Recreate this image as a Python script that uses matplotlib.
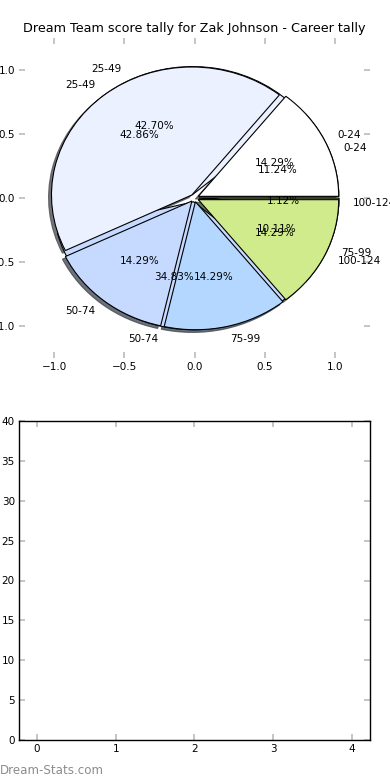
import matplotlib
matplotlib.use("Agg")
import matplotlib.pyplot as plt

# score bands and counts
bands = ["0-24", "25-49", "50-74", "75-99", "100-124"]
career_counts = [10, 38, 31, 9, 1]      # 11.24 / 42.70 / 34.83 / 10.11 / 1.12 %
season_counts = [1, 3, 1, 1, 1]         # 14.29 / 42.86 / 14.29 / 14.29 / 14.29 %
band_colors = ["#ffffff", "#ebf1ff", "#c6d9ff", "#b4d7ff", "#d0eb8b"]

empty_x = [0, 1, 2, 3, 4]
y_ticks = [0, 5, 10, 15, 20, 25, 30, 35, 40]

plt.rcParams["font.family"] = "DejaVu Sans"
plt.rcParams["font.size"] = 7.5

fig = plt.figure(figsize=(3.9, 7.8), dpi=100)

ax1 = fig.add_axes([19 / 390, 1 - 358 / 780, 351 / 390, 320 / 780])
wedge_kw = {"edgecolor": "black", "linewidth": 0.8}
ax1.pie(career_counts, labels=bands, colors=band_colors, autopct="%.2f%%",
        explode=[0.03] * 5, shadow=False, wedgeprops=wedge_kw,
        textprops={"fontsize": 7.5})
ax1.pie(season_counts, labels=bands, colors=band_colors, autopct="%.2f%%",
        explode=[0.03] * 5,
        shadow={"ox": -0.015, "oy": -0.015, "shade": 0.7, "alpha": 0.75},
        wedgeprops=wedge_kw, textprops={"fontsize": 7.5})
ax1.set_aspect("auto")
ax1.set_xlim(-1.25, 1.25)
ax1.set_ylim(-1.25, 1.25)
ax1.set_frame_on(False)
ax1.set_xticks([-1.0, -0.5, 0.0, 0.5, 1.0])
ax1.set_yticks([-1.0, -0.5, 0.0, 0.5, 1.0])
ax1.set_title("Dream Team score tally for Zak Johnson - Career tally",
              fontsize=9.2, pad=4)

ax2 = fig.add_axes([19 / 390, 1 - 740 / 780, 351 / 390, 319 / 780])
ax2.set_xlim(-0.23, 4.23)
ax2.set_ylim(0, 40)
ax2.set_xticks(empty_x)
ax2.set_yticks(y_ticks)
for sp in ax2.spines.values():
    sp.set_linewidth(1.0)

for ax in (ax1, ax2):
    ax.tick_params(direction="in", length=4, width=1.2, color="#bbbbbb",
                   top=True, right=True, labelsize=7.5, pad=3)

fig.text(0.0, 1 - 770 / 780, "Dream-Stats.com", color="#8c8c8c",
         fontsize=8.6, va="center", ha="left")

fig.savefig("out.png", dpi=100)
